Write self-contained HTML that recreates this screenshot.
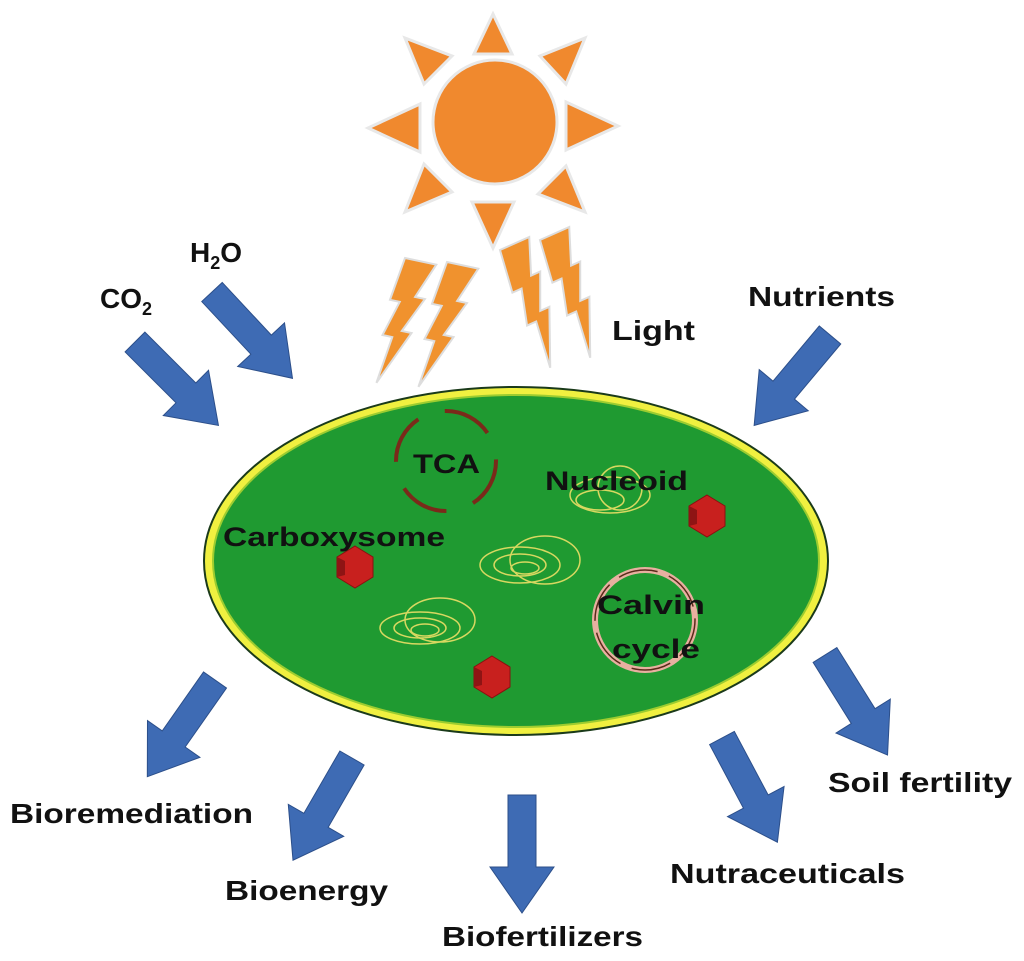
<!DOCTYPE html>
<html><head><meta charset="utf-8"><style>
html,body{margin:0;padding:0;background:#fff;}
svg text{font-family:"Liberation Sans",Arial,sans-serif;font-weight:bold;}
</style></head><body>
<svg width="1024" height="956" viewBox="0 0 1024 956" xmlns="http://www.w3.org/2000/svg">
<defs>
<g id="arr"><polygon points="0,-14 72,-14 72,-32 118,0 72,32 72,14 0,14" fill="#3e6bb4" stroke="#2c4f8a" stroke-width="1"/></g>
<g id="hex"><polygon points="0,-21 18,-10 18,10 0,21 -18,10 -18,-10" fill="#c8201e" stroke="#8a1010" stroke-width="1"/><polygon points="-18,-10 -10,-6 -10,8 -18,10" fill="#8e1414"/></g>
<g id="bolt"><polygon points="0,0 32,0 18,36 28,36 12,72 22,72 -2,128 4,80 -6,80 4,44 -6,44" fill="#f0922e" stroke="#ddd" stroke-width="2"/></g>
</defs>
<!-- sun -->
<g fill="#f0892e" stroke="#e8e8e8" stroke-width="3">
<circle cx="495" cy="122" r="62"/>
<polygon points="493,14 474,54 512,54"/>
<polygon points="493,248 472,202 514,202"/>
<polygon points="368,128 420,104 420,152"/>
<polygon points="618,126 566,102 566,150"/>
<polygon points="405,38 452,56 424,84"/>
<polygon points="585,38 540,56 566,84"/>
<polygon points="405,212 424,164 452,192"/>
<polygon points="585,212 538,194 566,166"/>
</g>
<!-- bolts -->
<use href="#bolt" transform="translate(405,258) rotate(12)"/>
<use href="#bolt" transform="translate(447,262) rotate(12)"/>
<use href="#bolt" transform="translate(500,250) rotate(-24)"/>
<use href="#bolt" transform="translate(540,240) rotate(-24)"/>
<!-- cell -->
<ellipse cx="516" cy="561" rx="312" ry="174" fill="#f0f040" stroke="#1a3a1a" stroke-width="2"/>
<ellipse cx="516" cy="561" rx="303" ry="166" fill="#1f9a31" stroke="#9ccc30" stroke-width="2"/>
<circle cx="446" cy="461" r="50" fill="none" stroke="#7a2a1a" stroke-width="4" stroke-dasharray="50 28"/>
<circle cx="645" cy="620" r="50" fill="none" stroke="#e8b0a0" stroke-width="6"/>
<circle cx="645" cy="620" r="50" fill="none" stroke="#5a2a1a" stroke-width="1.5" stroke-dasharray="40 12"/>
<g fill="none" stroke="#d8d860" stroke-width="1.5">
<ellipse cx="420" cy="628" rx="40" ry="16"/><ellipse cx="420" cy="628" rx="26" ry="10"/><ellipse cx="425" cy="630" rx="14" ry="6"/><ellipse cx="440" cy="620" rx="35" ry="22"/>
<ellipse cx="520" cy="565" rx="40" ry="18"/><ellipse cx="520" cy="565" rx="26" ry="11"/><ellipse cx="525" cy="568" rx="14" ry="6"/><ellipse cx="545" cy="560" rx="35" ry="24"/>
<ellipse cx="610" cy="495" rx="40" ry="18"/><ellipse cx="600" cy="500" rx="24" ry="10"/><ellipse cx="620" cy="488" rx="22" ry="22"/>
</g>
<use href="#hex" transform="translate(355,567)"/>
<use href="#hex" transform="translate(707,516)"/>
<use href="#hex" transform="translate(492,677)"/>
<g fill="#111" font-size="27" lengthAdjust="spacingAndGlyphs">
<text x="413" y="473" textLength="67" lengthAdjust="spacingAndGlyphs">TCA</text>
<text x="545" y="490" textLength="143" lengthAdjust="spacingAndGlyphs">Nucleoid</text>
<text x="223" y="546" textLength="222" lengthAdjust="spacingAndGlyphs">Carboxysome</text>
<text x="597" y="614" textLength="108" lengthAdjust="spacingAndGlyphs">Calvin</text>
<text x="612" y="658" textLength="88" lengthAdjust="spacingAndGlyphs">cycle</text>
</g>
<!-- arrows -->
<use href="#arr" transform="translate(135,342) rotate(45)"/>
<use href="#arr" transform="translate(212,292) rotate(47)"/>
<use href="#arr" transform="translate(830,335) rotate(130)"/>
<use href="#arr" transform="translate(215,680) rotate(125)"/>
<use href="#arr" transform="translate(352,758) rotate(120)"/>
<use href="#arr" transform="translate(522,795) rotate(90)"/>
<use href="#arr" transform="translate(722,738) rotate(62)"/>
<use href="#arr" transform="translate(825,655) rotate(58)"/>
<g fill="#111" font-size="28">
<text x="100" y="308">CO<tspan font-size="18" dy="7">2</tspan></text>
<text x="190" y="262">H<tspan font-size="18" dy="7">2</tspan><tspan dy="-7">O</tspan></text>
<text x="748" y="306" textLength="147" lengthAdjust="spacingAndGlyphs">Nutrients</text>
<text x="612" y="340" textLength="83" lengthAdjust="spacingAndGlyphs">Light</text>
<text x="10" y="823" textLength="243" lengthAdjust="spacingAndGlyphs">Bioremediation</text>
<text x="225" y="900" textLength="163" lengthAdjust="spacingAndGlyphs">Bioenergy</text>
<text x="442" y="946" textLength="201" lengthAdjust="spacingAndGlyphs">Biofertilizers</text>
<text x="670" y="883" textLength="235" lengthAdjust="spacingAndGlyphs">Nutraceuticals</text>
<text x="828" y="792" textLength="184" lengthAdjust="spacingAndGlyphs">Soil fertility</text>
</g>
</svg>
</body></html>
